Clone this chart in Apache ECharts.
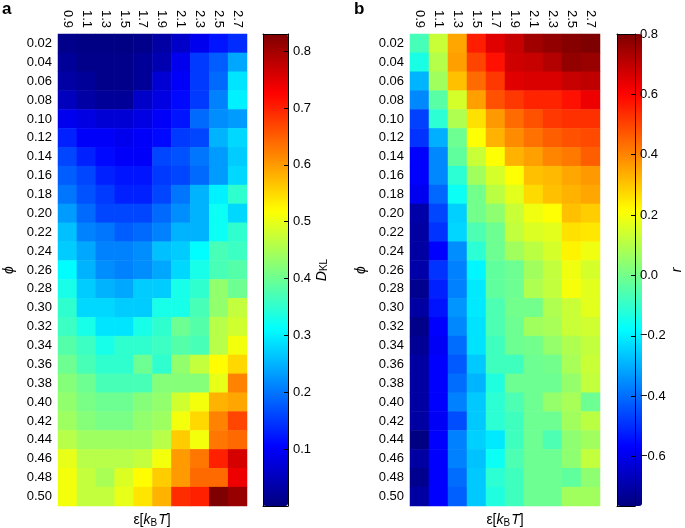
<!DOCTYPE html>
<html><head><meta charset="utf-8">
<script src="https://cdn.jsdelivr.net/npm/echarts@6/dist/echarts.min.js"></script>
<style>html,body{margin:0;padding:0;background:#fff}#c{width:685px;height:528px}</style>
</head><body><div id="c"></div>
<script>
const epsLabels = ['0.9','1.1','1.3','1.5','1.7','1.9','2.1','2.3','2.5','2.7'];
const phiLabels = ['0.02','0.04','0.06','0.08','0.10','0.12','0.14','0.16','0.18','0.20','0.22','0.24','0.26',
  '0.28','0.30','0.32','0.34','0.36','0.38','0.40','0.42','0.44','0.46','0.48','0.50'];
// panel a: D_KL, one row per phi, one column per epsilon
const dklValues = [
  [0.01,0.005,0.005,0.005,0.01,0.03,0.06,0.09,0.12,0.14],
  [0.02,0.01,0.01,0.01,0.02,0.04,0.09,0.15,0.18,0.24],
  [0.03,0.02,0.01,0.01,0.02,0.07,0.10,0.15,0.19,0.29],
  [0.05,0.03,0.02,0.02,0.06,0.08,0.11,0.15,0.21,0.30],
  [0.09,0.08,0.07,0.07,0.08,0.10,0.12,0.19,0.22,0.23],
  [0.13,0.10,0.10,0.09,0.10,0.11,0.15,0.16,0.25,0.28],
  [0.16,0.13,0.11,0.10,0.10,0.16,0.17,0.20,0.23,0.27],
  [0.18,0.16,0.13,0.12,0.12,0.15,0.16,0.19,0.23,0.28],
  [0.20,0.17,0.15,0.13,0.13,0.16,0.20,0.25,0.30,0.35],
  [0.23,0.19,0.16,0.16,0.16,0.19,0.22,0.25,0.32,0.28],
  [0.26,0.21,0.20,0.18,0.19,0.21,0.25,0.25,0.32,0.35],
  [0.27,0.24,0.21,0.21,0.22,0.26,0.27,0.31,0.37,0.36],
  [0.31,0.25,0.22,0.21,0.22,0.24,0.28,0.33,0.37,0.38],
  [0.33,0.27,0.25,0.24,0.27,0.27,0.33,0.35,0.43,0.40],
  [0.35,0.28,0.28,0.27,0.27,0.33,0.33,0.37,0.43,0.47],
  [0.36,0.33,0.29,0.29,0.33,0.35,0.40,0.38,0.46,0.48],
  [0.38,0.36,0.33,0.35,0.35,0.36,0.38,0.37,0.46,0.51],
  [0.40,0.37,0.35,0.35,0.40,0.35,0.43,0.47,0.52,0.55],
  [0.42,0.40,0.37,0.37,0.37,0.42,0.42,0.42,0.50,0.62],
  [0.43,0.41,0.40,0.40,0.42,0.43,0.48,0.51,0.58,0.59],
  [0.44,0.42,0.41,0.41,0.43,0.44,0.51,0.55,0.62,0.67],
  [0.46,0.44,0.44,0.44,0.44,0.46,0.56,0.51,0.63,0.64],
  [0.50,0.46,0.46,0.46,0.47,0.51,0.60,0.63,0.70,0.76],
  [0.51,0.47,0.45,0.49,0.52,0.56,0.60,0.64,0.64,0.74],
  [0.51,0.47,0.47,0.50,0.54,0.58,0.69,0.70,0.83,0.81]
];
// panel b: r
const rValues = [
  [-0.07,0.13,0.35,0.56,0.65,0.69,0.75,0.77,0.79,0.80],
  [-0.14,0.10,0.36,0.50,0.58,0.68,0.69,0.72,0.77,0.76],
  [-0.29,0.07,0.31,0.44,0.52,0.65,0.66,0.66,0.69,0.70],
  [-0.36,-0.04,0.15,0.36,0.48,0.52,0.55,0.55,0.58,0.63],
  [-0.47,-0.11,0.09,0.26,0.37,0.44,0.48,0.52,0.53,0.53],
  [-0.49,-0.30,-0.01,0.21,0.33,0.39,0.43,0.46,0.48,0.49],
  [-0.57,-0.36,-0.03,0.13,0.21,0.33,0.36,0.40,0.42,0.46],
  [-0.57,-0.36,-0.11,0.07,0.15,0.21,0.31,0.32,0.35,0.37],
  [-0.59,-0.41,-0.16,0.00,0.11,0.17,0.27,0.31,0.33,0.35],
  [-0.70,-0.46,-0.25,0.00,0.04,0.13,0.19,0.21,0.31,0.29],
  [-0.71,-0.49,-0.24,-0.06,-0.01,0.12,0.16,0.17,0.26,0.25],
  [-0.71,-0.57,-0.35,-0.11,-0.01,0.07,0.11,0.15,0.23,0.19],
  [-0.70,-0.49,-0.37,-0.19,-0.03,-0.01,0.07,0.12,0.19,0.15],
  [-0.74,-0.52,-0.37,-0.21,-0.03,-0.01,0.09,0.12,0.20,0.17],
  [-0.71,-0.54,-0.34,-0.21,-0.06,0.00,0.00,0.09,0.13,0.17],
  [-0.75,-0.57,-0.36,-0.22,-0.06,-0.01,0.07,0.08,0.13,0.14],
  [-0.73,-0.58,-0.40,-0.22,-0.08,-0.01,0.00,0.05,0.09,0.12],
  [-0.71,-0.57,-0.43,-0.26,-0.08,-0.08,-0.01,0.00,0.08,0.13],
  [-0.71,-0.57,-0.40,-0.29,-0.13,-0.01,-0.01,-0.01,0.05,0.12],
  [-0.71,-0.57,-0.37,-0.26,-0.11,-0.06,-0.01,0.05,0.08,-0.01],
  [-0.71,-0.58,-0.45,-0.26,-0.11,-0.08,-0.01,-0.01,0.07,0.11],
  [-0.76,-0.57,-0.37,-0.25,-0.21,-0.08,-0.01,-0.06,0.04,0.07],
  [-0.71,-0.57,-0.37,-0.27,-0.16,-0.06,-0.01,-0.01,0.04,0.12],
  [-0.74,-0.57,-0.40,-0.26,-0.11,-0.08,-0.01,-0.01,-0.03,0.04],
  [-0.71,-0.57,-0.42,-0.26,-0.13,-0.08,-0.01,-0.01,0.07,0.07]
];
const dklRange = [0, 0.83];
const rRange = [-0.764, 0.8];
const dklTicks = [0.1, 0.2, 0.3, 0.4, 0.5, 0.6, 0.7, 0.8];
const rTicks = [-0.6, -0.4, -0.2, 0.0, 0.2, 0.4, 0.6, 0.8];

const jet = ['#00007F','#0000FF','#007FFF','#00FFFF','#7FFF7F','#FFFF00','#FF7F00','#FF0000','#7F0000'];
const FONT = 'Liberation Sans, Arial, Helvetica, sans-serif';

function toCells(rows) {
  const out = [];
  rows.forEach((row, i) => row.forEach((v, j) => out.push([j, i, v])));
  return out;
}
const fmt = v => (Math.round(v * 10) / 10).toFixed(1).replace('-', '\u2212');

const chart = echarts.init(document.getElementById('c'), null, {renderer: 'canvas'});
const lbl = {color: '#000', fontSize: 13, fontFamily: FONT};
function heatX(gi) {
  return {gridIndex: gi, type: 'category', data: epsLabels, position: 'top',
    axisLine: {show: false}, axisTick: {show: false}, splitLine: {show: false},
    axisLabel: Object.assign({rotate: 90, margin: 6, interval: 0}, lbl)};
}
function heatY(gi) {
  return {gridIndex: gi, type: 'category', data: phiLabels, inverse: true,
    axisLine: {show: false}, axisTick: {show: false}, splitLine: {show: false},
    axisLabel: Object.assign({margin: 6, interval: 0}, lbl),
    name: '\u03D5', nameLocation: 'middle', nameGap: 42, nameRotate: 90,
    nameTextStyle: {color: '#000', fontSize: 14, fontStyle: 'italic', fontFamily: FONT}};
}
const line = {show: true, onZero: false, lineStyle: {color: '#000', width: 1}};
function barX(gi, pos) {
  return {gridIndex: gi, type: 'value', min: 0, max: 1, position: pos, z: 10,
    axisLine: line, axisTick: {show: false}, axisLabel: {show: false}, splitLine: {show: false}};
}
function barYLeft(gi, range) {
  return {gridIndex: gi, type: 'value', min: range[0], max: range[1], position: 'left', z: 10,
    axisLine: line, axisTick: {show: false}, axisLabel: {show: false}, splitLine: {show: false}};
}
function barYRight(gi, range, ticks, nameRich) {
  return {gridIndex: gi, type: 'value', min: range[0], max: range[1], position: 'right', z: 10,
    axisLine: line,
    axisTick: {show: true, inside: true, length: 4, customValues: ticks, lineStyle: {color: '#000'}},
    axisLabel: Object.assign({margin: 5, customValues: ticks, formatter: fmt}, lbl),
    splitLine: {show: false},
    name: nameRich.text, nameLocation: 'middle', nameRotate: 90, nameGap: nameRich.gap,
    nameTextStyle: {color: '#000', fontFamily: FONT, fontSize: 14, rich: nameRich.rich}};
}

const option = {
  animation: false,
  backgroundColor: '#fff',
  textStyle: {fontFamily: FONT},
  grid: [
    {left: 58, top: 34, width: 189, height: 472},
    {left: 410, top: 34, width: 190, height: 472},
    {left: 263, top: 34, width: 25, height: 472},
    {left: 617, top: 34, width: 25, height: 472}
  ],
  xAxis: [heatX(0), heatX(1), barX(2, 'top'), barX(2, 'bottom'), barX(3, 'top'), barX(3, 'bottom')],
  yAxis: [heatY(0), heatY(1), barYLeft(2, dklRange),
    barYRight(2, dklRange, dklTicks, {text: '{i|D}{s|KL}', gap: 22,
      rich: {i: {fontStyle: 'italic', fontSize: 14, fontFamily: FONT, color: '#000'},
             s: {fontSize: 10, fontFamily: FONT, color: '#000', padding: [0, 0, 0, 0], verticalAlign: 'bottom'}}}),
    barYLeft(3, rRange),
    barYRight(3, rRange, rTicks, {text: '{i|r}', gap: 35,
      rich: {i: {fontStyle: 'italic', fontSize: 14, fontFamily: FONT, color: '#000'}}})],
  visualMap: [
    {type: 'continuous', seriesIndex: 0, min: dklRange[0], max: dklRange[1], inRange: {color: jet},
      calculable: false, hoverLink: false, itemWidth: 25, itemHeight: 472, left: 263, top: 34,
      padding: 0, text: null, orient: 'vertical', z: 2},
    {type: 'continuous', seriesIndex: 1, min: rRange[0], max: rRange[1], inRange: {color: jet},
      calculable: false, hoverLink: false, itemWidth: 25, itemHeight: 472, left: 617, top: 34,
      padding: 0, text: null, orient: 'vertical', z: 2}
  ],
  series: [
    {type: 'heatmap', xAxisIndex: 0, yAxisIndex: 0, data: toCells(dklValues), progressive: 0,
      itemStyle: {borderWidth: 0}, emphasis: {disabled: true}},
    {type: 'heatmap', xAxisIndex: 1, yAxisIndex: 1, data: toCells(rValues), progressive: 0,
      itemStyle: {borderWidth: 0}, emphasis: {disabled: true}}
  ],
  graphic: [
    {type: 'text', left: 2, top: 1, style: {text: 'a', font: 'bold 17px ' + FONT, fill: '#000'}},
    {type: 'text', left: 354, top: 1, style: {text: 'b', font: 'bold 17px ' + FONT, fill: '#000'}},
    {type: 'text', x: 152, y: 512, style: {text: '{n|\u03B5[}{i|k}{s|B}{i|T}{n|]}', align: 'center',
      rich: {n: {fontSize: 14, fontFamily: FONT, fill: '#000'},
             i: {fontSize: 14, fontFamily: FONT, fontStyle: 'italic', fill: '#000'},
             s: {fontSize: 10, fontFamily: FONT, fill: '#000', padding: [6, 1, 0, 0]}}}},
    {type: 'text', x: 505, y: 512, style: {text: '{n|\u03B5[}{i|k}{s|B}{i|T}{n|]}', align: 'center',
      rich: {n: {fontSize: 14, fontFamily: FONT, fill: '#000'},
             i: {fontSize: 14, fontFamily: FONT, fontStyle: 'italic', fill: '#000'},
             s: {fontSize: 10, fontFamily: FONT, fill: '#000', padding: [6, 1, 0, 0]}}}}
  ]
};
chart.setOption(option);
</script></body></html>
